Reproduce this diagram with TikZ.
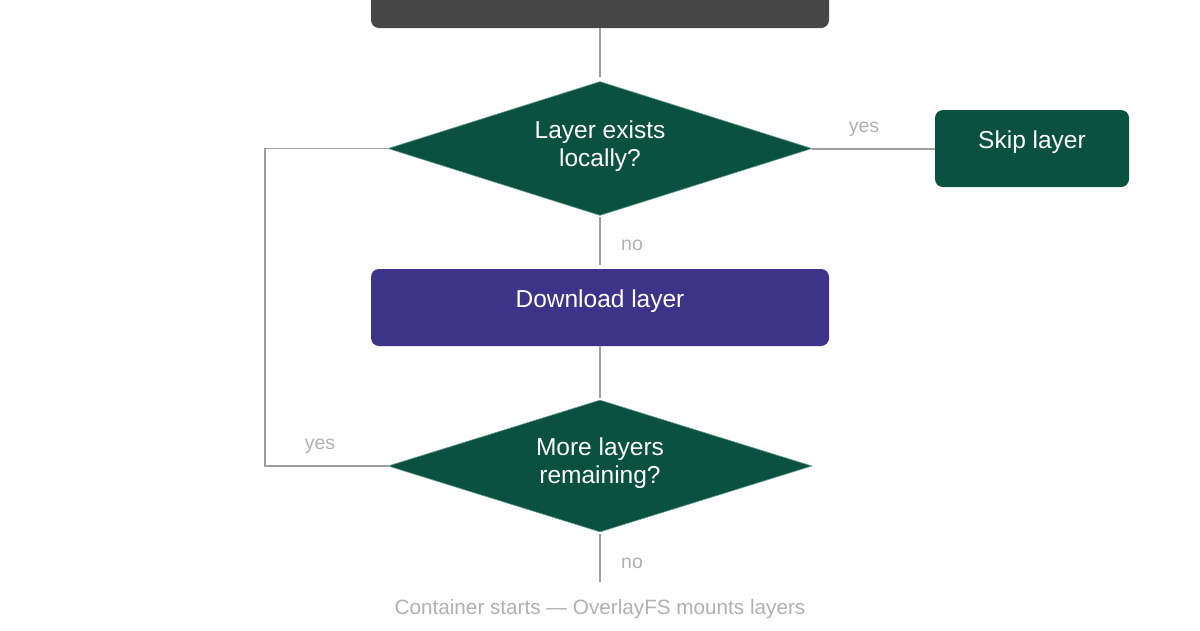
\documentclass[tikz,border=0pt]{standalone}
\usepackage{fontspec}
\setmainfont{Liberation Sans}
\usetikzlibrary{shapes.geometric}
\definecolor{boxgray}{HTML}{464646}
\definecolor{dgreen}{HTML}{0A5140}
\definecolor{purp}{HTML}{3D3489}
\definecolor{linegray}{HTML}{9E9E9E}
\definecolor{lblgray}{HTML}{B0B0B0}
\tikzset{
  conn/.style={draw=linegray, line width=2pt},
  lbl/.style={text=lblgray, font=\fontsize{19.5}{22}\selectfont, inner sep=0pt},
  boxnode/.style={rectangle, rounded corners=8pt, inner sep=0pt, text=white,
    font=\fontsize{24.5}{28}\selectfont},
  boxtext/.style={text=white, font=\fontsize{24.5}{28}\selectfont, inner sep=0pt},
  dia/.style={diamond, aspect=3.16, fill=dgreen, draw=dgreen!70!teal!60!white, line width=0.6pt, inner sep=0pt,
    minimum width=424pt, minimum height=134pt, text=white, align=center,
    font=\fontsize{24.5}{28}\selectfont},
}
\begin{document}
\begin{tikzpicture}[x=1pt,y=-1pt]
\useasboundingbox (0,0) rectangle (1200,630);
% start box (cut off at top)
\node[boxnode, fill=boxgray, minimum width=458pt, minimum height=80pt] (start) at (600,-12) {};
% diamond 1
\node[dia] (d1) at (600,148.5) {};
\node[boxtext, align=center] (d1t) at (600,146) {Layer exists\\locally?};
% skip box
\node[boxnode, fill=dgreen, minimum width=194pt, minimum height=77pt] (skip) at (1032,148.5) {};
\node[boxtext] (skipt) at (1032,142.5) {Skip layer};
% download box
\node[boxnode, fill=purp, minimum width=458pt, minimum height=77pt] (dl) at (600,307.5) {};
\node[boxtext] (dlt) at (600,301) {Download layer};
% diamond 2
\node[dia, minimum height=132pt] (d2) at (600,466) {};
\node[boxtext, align=center] (d2t) at (600,463) {More layers\\remaining?};
% end coordinate
\coordinate (endc) at (600,582);
\coordinate (loopb) at (265,466);
\coordinate (loopt) at (265,148.5);
% footer
\node[lbl, font=\fontsize{20.7}{24}\selectfont] (foot) at (600,609) {Container starts — OverlayFS mounts layers};
% connectors
\draw[conn, shorten >=4pt] (start.south) -- (d1.north);
\draw[conn] (d1.east) -- (skip.west);
\node[lbl] (yes1) at (864,129) {yes};
\draw[conn, shorten <=1pt, shorten >=4pt] (d1.south) -- (dl.north);
\node[lbl] (no1) at (632,245) {no};
\draw[conn, shorten >=2pt] (dl.south) -- (d2.north);
\draw[conn, shorten <=2pt] (d2.south) -- (endc);
\node[lbl] (no2) at (632,563) {no};
\draw[conn, line width=1.6pt] (d2.west) -- (loopb) -- (loopt) -- (d1.west);
\node[lbl] (yes2) at (320,446) {yes};
\end{tikzpicture}
\end{document}
